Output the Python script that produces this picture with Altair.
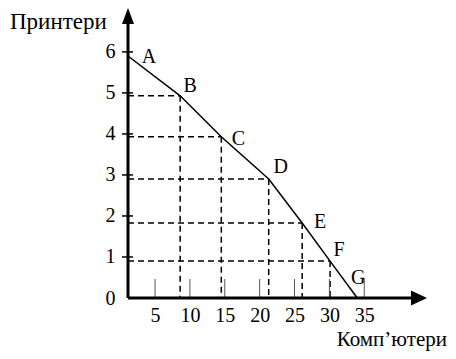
import altair as alt
import pandas as pd

# ---- data ----
points = ["A", "B", "C", "D", "E", "F", "G"]
computers = [1.12, 8.6, 14.5, 21.3, 26.1, 30.1, 34.0]
printers = [5.9, 4.93, 3.93, 2.90, 1.83, 0.90, 0.0]
x_ticks = [5, 10, 15, 20, 25, 30, 35]
y_ticks = [0, 1, 2, 3, 4, 5, 6]
x_title = "Комп’ютери"
y_title = "Принтери"

# ---- layout / style ----
X_MIN, X_MAX = 1.12, 44.0
Y_MIN, Y_MAX = 0.0, 7.07
W, H = 299, 290
FONT = "'Liberation Serif', 'Times New Roman', serif"
FS = 20
TFS = 23
label_offsets = {"A": (21, 1), "B": (10, -10), "C": (17, 2), "D": (12, -12),
                 "E": (18, -1), "F": (9, -11), "G": (1, -20)}

xscale = alt.Scale(domain=[X_MIN, X_MAX], nice=False, zero=False)
yscale = alt.Scale(domain=[Y_MIN, Y_MAX], nice=False, zero=False)
xaxis = alt.Axis(values=x_ticks, title=None, grid=False, domain=False, ticks=False,
                 labelFont=FONT, labelFontSize=FS, labelColor="black",
                 labelPadding=7, labelFlush=False, labelOverlap=False)
yaxis = alt.Axis(values=y_ticks, title=None, grid=False, domain=False, ticks=False,
                 labelFont=FONT, labelFontSize=FS, labelColor="black",
                 labelPadding=13, labelFlush=False, labelOverlap=False)
xenc = alt.X("x:Q", scale=xscale, axis=xaxis)
yenc = alt.Y("y:Q", scale=yscale, axis=yaxis)

df = pd.DataFrame({"x": computers, "y": printers, "p": points})

frontier = alt.Chart(df).mark_line(color="black", strokeWidth=1.5).encode(x=xenc, y=yenc)

inner = df[(df.p != "A") & (df.p != "G")]
hdash = alt.Chart(pd.DataFrame({"x": [X_MIN] * len(inner), "x2": inner.x.values,
                                "y": inner.y.values})).mark_rule(
    color="black", strokeWidth=1.5, strokeDash=[6, 4]).encode(
    x=xenc, x2="x2:Q", y=yenc)
vdash = alt.Chart(pd.DataFrame({"x": inner.x.values, "y": inner.y.values,
                                "y2": [0.0] * len(inner)})).mark_rule(
    color="black", strokeWidth=1.5, strokeDash=[6, 4]).encode(
    x=xenc, y=yenc, y2="y2:Q")

xtick_df = pd.DataFrame({"x": x_ticks, "y": [0.0] * len(x_ticks)})
xtickmarks = alt.Chart(xtick_df).mark_rule(color="#555", strokeWidth=1).encode(
    x=xenc, y=alt.value(H), y2=alt.value(H - 19))

ytick_df = pd.DataFrame({"x": [X_MIN] * 6, "y": y_ticks[1:]})
ytickmarks = alt.Chart(ytick_df).mark_rule(color="black", strokeWidth=1.5).encode(
    y=yenc, x=alt.value(-6), x2=alt.value(5))

xaxis_line = alt.Chart(pd.DataFrame({"x": [X_MIN], "x2": [X_MAX - 1.5], "y": [0.0]})).mark_rule(
    color="black", strokeWidth=3).encode(x=xenc, x2="x2:Q", y=yenc)
yaxis_line = alt.Chart(pd.DataFrame({"x": [X_MIN], "y": [0.0], "y2": [Y_MAX - 0.3]})).mark_rule(
    color="black", strokeWidth=3).encode(x=xenc, y=yenc, y2="y2:Q")

right_arrow = alt.Chart(pd.DataFrame({"x": [X_MAX], "y": [0.0]})).mark_point(
    shape="M0,0L-2,-0.94L-2,0.94Z", size=256, filled=True, color="black",
    opacity=1, strokeWidth=0).encode(x=xenc, y=yenc)
up_arrow = alt.Chart(pd.DataFrame({"x": [X_MIN], "y": [Y_MAX]})).mark_point(
    shape="M0,0L-0.75,2L0.75,2Z", size=256, filled=True, color="black",
    opacity=1, strokeWidth=0).encode(x=xenc, y=yenc)

labels = []
for p in points:
    dx, dy = label_offsets[p]
    labels.append(alt.Chart(df[df.p == p]).mark_text(
        font=FONT, fontSize=FS, color="black", dx=dx, dy=dy,
        align="center", baseline="middle").encode(x=xenc, y=yenc, text="p:N"))

ytitle = alt.Chart(pd.DataFrame({"t": [y_title]})).mark_text(
    font=FONT, fontSize=TFS, color="black", align="left", baseline="alphabetic").encode(
    x=alt.value(-118), y=alt.value(21), text="t:N")
xtitle = alt.Chart(pd.DataFrame({"t": [x_title]})).mark_text(
    font=FONT, fontSize=21, color="black", align="right", baseline="alphabetic").encode(
    x=alt.value(319), y=alt.value(338), text="t:N")

chart = alt.layer(
    hdash, vdash, xtickmarks, ytickmarks, frontier, xaxis_line, yaxis_line,
    right_arrow, up_arrow, *labels, ytitle, xtitle
).properties(
    width=W, height=H,
    autosize=alt.AutoSizeParams(type="none"),
    padding={"left": 120, "top": 0, "right": 21, "bottom": 53},
    background="white",
).configure_view(stroke=None)

chart.save("out.html", embed_options={"renderer": "svg", "actions": False})
